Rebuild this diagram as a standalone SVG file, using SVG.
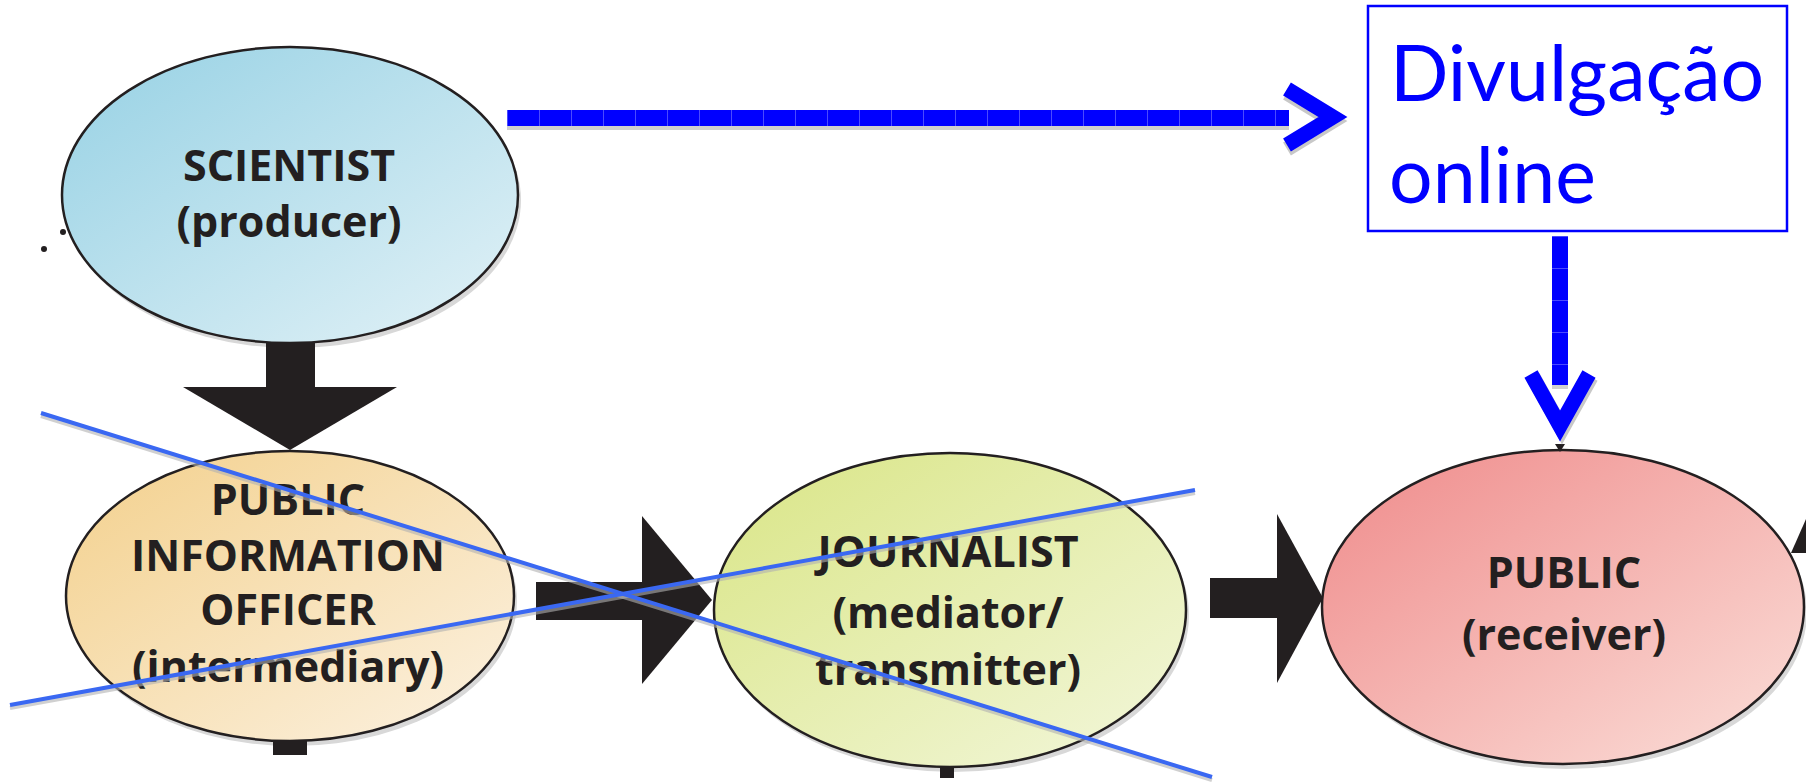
<svg xmlns="http://www.w3.org/2000/svg" width="1806" height="784" viewBox="0 0 1806 784">
<style>
.lbl{font-family:"Open Sans","Liberation Sans",sans-serif;font-weight:700;font-size:43px;fill:#231f20;text-anchor:middle}
.blue{font-family:Lato,"Liberation Sans",sans-serif;font-size:77px;fill:#0000ff}
.ell{stroke:#231f20;stroke-width:2.5}
.shadow{fill:#d8d8d8}
.blk{fill:#231f20}
.cross{stroke:#3a68f2;stroke-width:4;fill:none}
.crossShadow{stroke:#b0b0b0;stroke-width:4;fill:none;opacity:0.6}
.chev{stroke:#0000ff;stroke-width:15;fill:none;stroke-linejoin:miter;stroke-miterlimit:10}
.chevSh{stroke:#c8c8c8;stroke-width:15;fill:none;stroke-linejoin:miter;stroke-miterlimit:10}
</style>
<defs>
<linearGradient id="gSci" x1="0" y1="0" x2="1" y2="1">
<stop offset="0" stop-color="#96d1e4"/><stop offset="1" stop-color="#e3f2f7"/>
</linearGradient>
<linearGradient id="gPio" x1="0" y1="0" x2="1" y2="1">
<stop offset="0" stop-color="#f3d08c"/><stop offset="1" stop-color="#fcf2e2"/>
</linearGradient>
<linearGradient id="gJou" x1="0" y1="0" x2="1" y2="1">
<stop offset="0" stop-color="#d9e585"/><stop offset="1" stop-color="#f3f7dc"/>
</linearGradient>
<linearGradient id="gPub" x1="0" y1="0" x2="1" y2="1">
<stop offset="0" stop-color="#ef8a8a"/><stop offset="1" stop-color="#fbe0da"/>
</linearGradient>
<pattern id="seg" x="507" y="0" width="32" height="20" patternUnits="userSpaceOnUse">
<rect width="32" height="20" fill="#0000ff"/><rect x="0" width="1" height="20" fill="#4a4aff"/>
</pattern>
<pattern id="segV" x="0" y="236" width="20" height="32" patternUnits="userSpaceOnUse">
<rect width="20" height="32" fill="#0000ff"/><rect y="0" width="20" height="1" fill="#4a4aff"/>
</pattern>
</defs>
<rect width="1806" height="784" fill="#ffffff"/>

<g id="scientist">
<ellipse class="shadow" cx="293" cy="200" rx="228" ry="148"/>
<ellipse class="ell" cx="290" cy="195" rx="228" ry="148" fill="url(#gSci)"/>
<circle cx="63" cy="232" r="3" fill="#231f20"/>
<circle cx="44" cy="249" r="3" fill="#231f20"/>
<text class="lbl" x="289" y="181">SCIENTIST</text>
<text class="lbl" x="289" y="237">(producer)</text>
</g>

<g id="pio">
<ellipse class="shadow" cx="293" cy="601" rx="224" ry="145"/>
<ellipse class="ell" cx="290" cy="596" rx="224" ry="145" fill="url(#gPio)"/>
<text class="lbl" x="288" y="515">PUBLIC</text>
<text class="lbl" x="288" y="571">INFORMATION</text>
<text class="lbl" x="288" y="625">OFFICER</text>
<text class="lbl" x="288" y="682">(intermediary)</text>
</g>

<g id="journalist">
<ellipse class="shadow" cx="953" cy="615" rx="236" ry="157"/>
<ellipse class="ell" cx="950" cy="610" rx="236" ry="157" fill="url(#gJou)"/>
<text class="lbl" x="948" y="567">JOURNALIST</text>
<text class="lbl" x="948" y="628">(mediator/</text>
<text class="lbl" x="948" y="685">transmitter)</text>
</g>

<g id="public">
<ellipse class="shadow" cx="1566" cy="612" rx="241" ry="157"/>
<ellipse class="ell" cx="1563" cy="607" rx="241" ry="157" fill="url(#gPub)"/>
<text class="lbl" x="1564" y="588">PUBLIC</text>
<text class="lbl" x="1564" y="650">(receiver)</text>
</g>

<g id="divulgacao">
<rect x="1368" y="6" width="419" height="225" fill="#ffffff" stroke="#0000ff" stroke-width="2.5"/>
<text class="blue" x="1390" y="101">Divulgação</text>
<text class="blue" x="1389" y="203">online</text>
</g>

<g id="connectors">
<!-- Scientist -> PIO -->
<rect class="blk" x="266" y="342" width="49" height="46"/>
<polygon class="blk" points="183,387 397,387 290,450"/>
<!-- PIO -> Journalist -->
<rect class="blk" x="536" y="582" width="107" height="38"/>
<polygon class="blk" points="642,516 642,684 712,600"/>
<!-- Journalist -> Public -->
<rect class="blk" x="1210" y="578" width="68" height="40"/>
<polygon class="blk" points="1277,514 1277,683 1323,598"/>
<!-- stubs -->
<rect class="blk" x="273" y="741" width="34" height="14"/>
<rect class="blk" x="940" y="767" width="14" height="11"/>
<polygon class="blk" points="1791,553 1806,519 1806,553"/>
<polygon class="blk" points="1555,444 1565,444 1560,452"/>
<!-- Scientist -> Divulgação (blue) -->
<rect x="507" y="126" width="782" height="4" fill="#cfcfcf"/>
<rect x="507" y="110" width="782" height="16" fill="url(#seg)"/>
<polyline class="chevSh" points="1287,93 1333,121 1287,149"/>
<polyline class="chev" points="1287,89 1333,117 1287,145"/>
<!-- Divulgação -> Public (blue) -->
<rect x="1552" y="385" width="16" height="4" fill="#cfcfcf"/>
<rect x="1552" y="236" width="16" height="149" fill="url(#segV)"/>
<polyline class="chevSh" points="1533,377 1562,429 1591,377"/>
<polyline class="chev" points="1531,374 1560,426 1589,374"/>
</g>

<g id="strike">
<line class="crossShadow" x1="41" y1="416" x2="1212" y2="780"/>
<line class="crossShadow" x1="10" y1="708" x2="1195" y2="493"/>
<line class="cross" x1="41" y1="413" x2="1212" y2="777"/>
<line class="cross" x1="10" y1="705" x2="1195" y2="490"/>
</g>
</svg>
